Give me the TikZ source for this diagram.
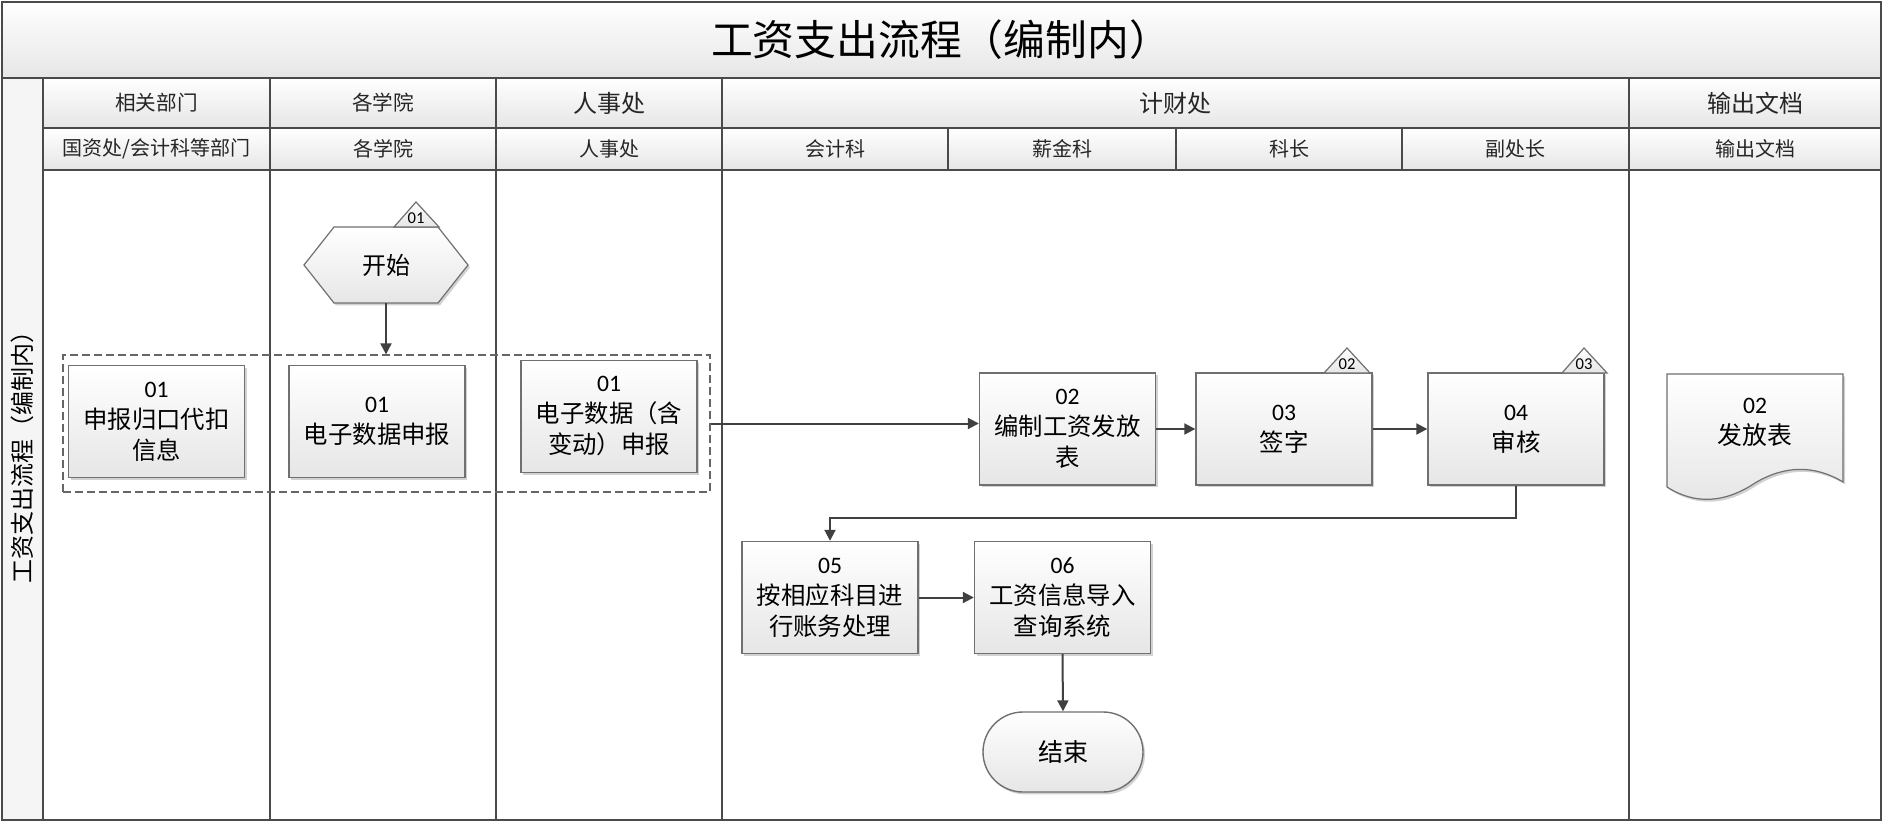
\documentclass[tikz,border=0pt]{standalone}
\usepackage{fontspec}
\setmainfont{Noto Sans CJK SC}
\newfontfamily\numfont{Carlito}
\usetikzlibrary{arrows.meta,shadows,calc}
\definecolor{lane}{HTML}{4A4A4A}
\definecolor{bord}{HTML}{707070}
\definecolor{shadeb}{HTML}{E6E6E6}
\definecolor{conncol}{HTML}{404040}
\newcommand\nm[1]{{\numfont\fontsize{11.8}{15.5}\selectfont #1}}
\begin{document}
\begin{tikzpicture}[x=0.5pt,y=-0.5pt,
  hcell/.style={draw=lane, line width=0.7pt, top color=white, bottom color=shadeb},
  htxt/.style={inner sep=0pt, text=black!85, font=\fontsize{10}{12}\selectfont},
  htxtL/.style={inner sep=0pt, text=black!85, font=\fontsize{12}{14}\selectfont},
  boxshadow/.style={drop shadow={shadow xshift=1pt, shadow yshift=-1.2pt, fill=black!35}},
  proc/.style={draw=bord, line width=0.7pt, top color=white, bottom color=shadeb,
    minimum width=88pt, minimum height=56pt, inner sep=0pt, align=center,
    font=\fontsize{12.2}{15.5}\selectfont, boxshadow},
  conn/.style={draw=conncol, line width=1pt, -{Triangle[length=5.5pt,width=5.5pt]}},
  tagshape/.style={draw=bord, line width=0.6pt, top color=white, bottom color=shadeb},
  tagtxt/.style={inner sep=0pt, font=\numfont\fontsize{8.3}{9}\selectfont},
  laneline/.style={draw=lane, line width=0.8pt}]
\useasboundingbox (0,0) rectangle (1887,824);
\fill[white] (0,0) rectangle (1887,824);
% title band and left column
\path[top color=white, bottom color=shadeb] (2,2) rectangle (1881,78);
\path[fill=black!4] (2,78) rectangle (43,820);
\node[inner sep=0pt, font=\fontsize{20.9}{24}\selectfont] (title) at (941,40) {工资支出流程（编制内）};
\node[rotate=90, inner sep=0pt, font=\fontsize{12}{14}\selectfont] (vlab) at (22,451) {工资支出流程（编制内）};
% header row 1
\path[hcell] (43,78) rectangle (270,128);
\path[hcell] (270,78) rectangle (496,128);
\path[hcell] (496,78) rectangle (722,128);
\path[hcell] (722,78) rectangle (1629,128);
\path[hcell] (1629,78) rectangle (1881,128);
\node[htxt, font=\fontsize{10.3}{12}\selectfont] (h1a) at (156.5,103) {相关部门};
\node[htxt, font=\fontsize{10.3}{12}\selectfont] (h1b) at (383,103) {各学院};
\node[htxtL] (h1c) at (609,103) {人事处};
\node[htxtL] (h1d) at (1175.5,103) {计财处};
\node[htxtL] (h1e) at (1755,103) {输出文档};
% header row 2
\path[hcell] (43,128) rectangle (270,170);
\path[hcell] (270,128) rectangle (496,170);
\path[hcell] (496,128) rectangle (722,170);
\path[hcell] (722,128) rectangle (948,170);
\path[hcell] (948,128) rectangle (1176,170);
\path[hcell] (1176,128) rectangle (1402,170);
\path[hcell] (1402,128) rectangle (1629,170);
\path[hcell] (1629,128) rectangle (1881,170);
\node[htxt] (h2a) at (156.5,149) {国资处/会计科等部门};
\node[htxt] (h2b) at (383,149) {各学院};
\node[htxt] (h2c) at (609,149) {人事处};
\node[htxt] (h2d) at (835,149) {会计科};
\node[htxt] (h2e) at (1062,149) {薪金科};
\node[htxt] (h2f) at (1289,149) {科长};
\node[htxt] (h2g) at (1515.5,149) {副处长};
\node[htxt] (h2h) at (1755,149) {输出文档};
% lane lines
\draw[laneline] (43,78) -- (43,820);
\draw[laneline] (270,170) -- (270,820);
\draw[laneline] (496,170) -- (496,820);
\draw[laneline] (722,170) -- (722,820);
\draw[laneline] (1629,170) -- (1629,820);
\draw[laneline] (2,78) -- (43,78);
\draw[draw=lane, line width=0.9pt] (2,2) rectangle (1881,820);
% group frame
\node[draw=black!60, dashed, dash pattern=on 4pt off 2pt, line width=0.6pt,
  minimum width=323.5pt, minimum height=68.5pt, inner sep=0pt] (grp) at (386.5,423.5) {};
% process boxes
\node[proc] (a) at (156.5,421.5) {\nm{01}\\申报归口代扣\\信息};
\node[proc] (b) at (377,421.5) {\nm{01}\\电子数据申报};
\node[proc] (c) at (609,416.5) {\nm{01}\\电子数据（含\\变动）申报};
\node[proc] (b02) at (1067.5,429) {\nm{02}\\编制工资发放\\表};
\node[proc] (b03) at (1284,429) {\nm{03}\\签字};
\node[proc] (b04) at (1516,429) {\nm{04}\\审核};
\node[proc] (b05) at (830,597.5) {\nm{05}\\按相应科目进\\行账务处理};
\node[proc] (b06) at (1062.5,597.5) {\nm{06}\\工资信息导入\\查询系统};
% start hexagon
\path[tagshape, boxshadow] (304,265) -- (334,227) -- (438,227) -- (468,265) -- (438,303) -- (334,303) -- cycle;
\node[minimum width=82pt, minimum height=38pt, inner sep=0pt, font=\fontsize{12}{14}\selectfont] (hex) at (386,265) {开始};
% tags
\path[tagshape] (394,227) -- (416,202) -- (439,227) -- cycle;
\node[tagtxt] (t1) at (416,218) {01};
\path[tagshape] (1324,373) -- (1347,348) -- (1370,373) -- cycle;
\node[tagtxt] (t2) at (1347,364) {02};
\path[tagshape] (1562,373) -- (1584,348) -- (1607,373) -- cycle;
\node[tagtxt] (t3) at (1584,364) {03};
% document
\path[tagshape, boxshadow] (1667,374) -- (1843,374) -- (1843,482)
  .. controls (1815,465) and (1785,465) .. (1755,483)
  .. controls (1725,503) and (1695,505) .. (1667,487) -- cycle;
\node[align=center, inner sep=0pt, font=\fontsize{12.4}{15.5}\selectfont] (doc) at (1755,422) {\nm{02}\\发放表};
% end
\node[proc, rounded corners=20pt, minimum width=80pt, minimum height=40pt, font=\fontsize{12.5}{15}\selectfont] (fin) at (1063,752) {结束};
% connectors
\draw[conn] (hex.south) -- (hex.south |- grp.north);
\draw[conn] (grp.east) -- (grp.east -| b02.west);
\draw[conn] (b02.east) -- (b03.west);
\draw[conn] (b03.east) -- (b04.west);
\draw[conn] (b04.south) -- ++(0,32) -| (b05.north);
\draw[conn] (b05.east) -- (b06.west);
\draw[conn] (b06.south) -- (fin.north);
\end{tikzpicture}
\end{document}
